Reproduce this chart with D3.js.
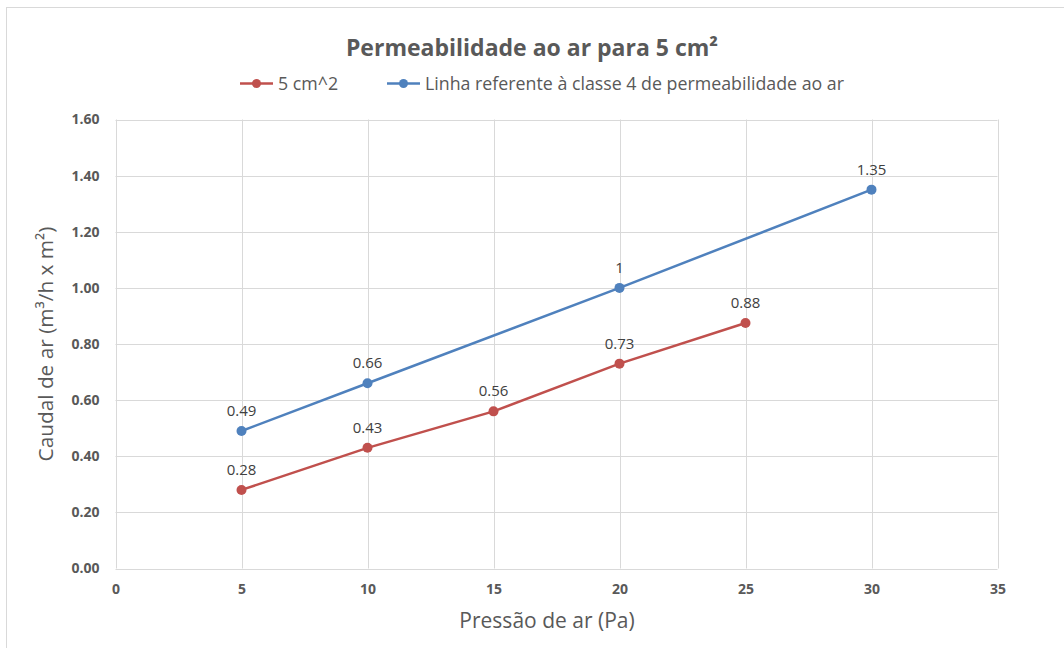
<!DOCTYPE html>
<html><head><meta charset="utf-8">
<script src="https://cdn.jsdelivr.net/npm/d3@7"></script>
<style>body{margin:0;background:#fff}svg{display:block}</style>
</head><body><svg id="c" width="1064" height="648"></svg>
<script>
const pressure = [5, 10, 15, 20, 25, 30];
const serie5cm = [0.28, 0.43, 0.56, 0.73, 0.875];
const serie5cmLabels = ["0.28", "0.43", "0.56", "0.73", "0.88"];
const classe4 = [0.49, 0.66, 1.0, 1.35];
const classe4X = [5, 10, 20, 30];
const classe4Labels = ["0.49", "0.66", "1", "1.35"];
const xTicks = [0, 5, 10, 15, 20, 25, 30, 35];
const yTicks = [0, 0.2, 0.4, 0.6, 0.8, 1.0, 1.2, 1.4, 1.6];
const seriesNames = ["5 cm^2", "Linha referente à classe 4 de permeabilidade ao ar"];
const colors = ["#C0504D", "#4F81BD"];

const font = "'Open Sans', 'Noto Sans', sans-serif";
const svg = d3.select("#c");
svg.append("rect").attr("x", 6.5).attr("y", 7.5).attr("width", 1070).attr("height", 660)
  .attr("fill", "#fff").attr("stroke", "#d9d9d9");

const L = 115.5, R = 997.5, T = 119.5, B = 568.5;
const x = d3.scaleLinear().domain([0, 35]).range([L, R]);
const y = d3.scaleLinear().domain([0, 1.6]).range([B, T]);

// gridlines
svg.append("g").selectAll("line").data(yTicks).join("line")
  .attr("x1", L).attr("x2", R).attr("y1", d => Math.round(y(d)) + 0.5).attr("y2", d => Math.round(y(d)) + 0.5)
  .attr("stroke", "#d9d9d9").attr("stroke-width", 1);
svg.append("g").selectAll("line").data(xTicks).join("line")
  .attr("y1", T).attr("y2", B).attr("x1", d => Math.round(x(d)) + 0.5).attr("x2", d => Math.round(x(d)) + 0.5)
  .attr("stroke", "#d9d9d9").attr("stroke-width", 1);

// axes (labels only)
const yAxis = d3.axisLeft(y).tickValues(yTicks).tickFormat(d3.format(".2f")).tickSize(0).tickPadding(16);
const gy = svg.append("g").attr("transform", `translate(${L},0)`).call(yAxis);
const xAxis = d3.axisBottom(x).tickValues(xTicks).tickFormat(d3.format("d")).tickSize(0).tickPadding(16);
const gx = svg.append("g").attr("transform", `translate(0,${B})`).call(xAxis);
[gx, gy].forEach(g => {
  g.select(".domain").remove();
  g.selectAll("text").attr("font-family", font).attr("font-size", 14).attr("font-weight", "bold").attr("fill", "#595959");
});

// lines
const line = d3.line().x(d => x(d[0])).y(d => y(d[1]));
const s1 = pressure.slice(0, serie5cm.length).map((p, i) => [p, serie5cm[i], serie5cmLabels[i]]);
const s2 = classe4X.map((p, i) => [p, classe4[i], classe4Labels[i]]);
[s2, s1].forEach((s, k) => {
  const c = colors[1 - k];
  svg.append("path").datum(s).attr("d", line).attr("fill", "none").attr("stroke", c).attr("stroke-width", 2.5);
  svg.append("g").selectAll("circle").data(s).join("circle")
    .attr("cx", d => x(d[0])).attr("cy", d => y(d[1])).attr("r", 5).attr("fill", c);
  svg.append("g").selectAll("text").data(s).join("text")
    .attr("x", d => x(d[0])).attr("y", d => y(d[1]) - 15).attr("text-anchor", "middle")
    .attr("font-family", font).attr("font-size", 15).attr("fill", "#404040").text(d => d[2]);
});

// title
svg.append("text").attr("x", 532).attr("y", 56).attr("text-anchor", "middle")
  .attr("font-family", font).attr("font-size", 23).attr("font-weight", "bold").attr("fill", "#595959")
  .text("Permeabilidade ao ar para 5 cm²");

// legend
const leg = [{x: 240, name: seriesNames[0], c: colors[0]}, {x: 387, name: seriesNames[1], c: colors[1]}];
leg.forEach(l => {
  svg.append("line").attr("x1", l.x).attr("x2", l.x + 33).attr("y1", 83.5).attr("y2", 83.5).attr("stroke", l.c).attr("stroke-width", 2.5);
  svg.append("circle").attr("cx", l.x + 16.5).attr("cy", 83.5).attr("r", 4.5).attr("fill", l.c);
  svg.append("text").attr("x", l.x + 38).attr("y", 89.5).attr("font-family", font).attr("font-size", 17.8)
    .attr("fill", "#595959").text(l.name);
});

// axis titles
svg.append("text").attr("x", 547).attr("y", 628).attr("text-anchor", "middle")
  .attr("font-family", font).attr("font-size", 21).attr("fill", "#595959").text("Pressão de ar (Pa)");
svg.append("text").attr("transform", `translate(53,${(T + B) / 2}) rotate(-90)`).attr("text-anchor", "middle")
  .attr("font-family", font).attr("font-size", 20.8).attr("fill", "#595959").text("Caudal de ar (m³/h x m²)");
</script></body></html>
